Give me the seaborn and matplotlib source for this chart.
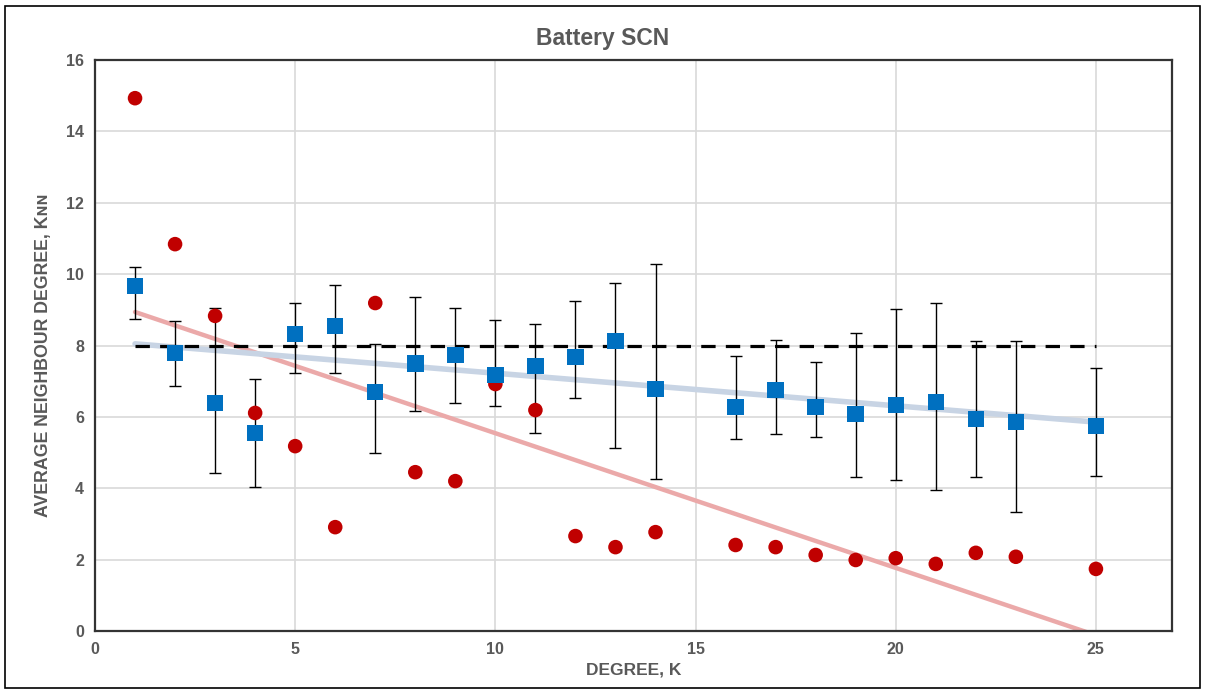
import numpy as np
import pandas as pd
import matplotlib
matplotlib.use("Agg")
import matplotlib.pyplot as plt
import seaborn as sns
from matplotlib.patches import Rectangle

# ---- data ----
degree_blue = [1, 2, 3, 4, 5, 6, 7, 8, 9, 10, 11, 12, 13, 14, 16, 17, 18, 19, 20, 21, 22, 23, 25]
knn_blue = [9.67, 7.79, 6.39, 5.55, 8.32, 8.55, 6.70, 7.50, 7.73, 7.17, 7.42, 7.68, 8.13, 6.78,
            6.28, 6.75, 6.28, 6.08, 6.33, 6.41, 5.94, 5.85, 5.74]
err_upper = [10.20, 8.69, 9.05, 7.06, 9.19, 9.69, 8.04, 9.36, 9.05, 8.71, 8.60, 9.25, 9.75, 10.28,
             7.70, 8.15, 7.54, 8.35, 9.02, 9.19, 8.13, 8.13, 7.38]
err_lower = [8.74, 6.86, 4.43, 4.03, 7.23, 7.23, 4.99, 6.16, 6.39, 6.30, 5.55, 6.53, 5.13, 4.26,
             5.38, 5.52, 5.44, 4.31, 4.23, 3.95, 4.31, 3.33, 4.34]

degree_red = [1, 2, 3, 4, 5, 6, 7, 8, 9, 10, 11, 12, 13, 14, 16, 17, 18, 19, 20, 21, 22, 23, 25]
knn_red = [14.93, 10.84, 8.83, 6.11, 5.18, 2.91, 9.19, 4.45, 4.20, 6.92, 6.19, 2.66, 2.35, 2.77,
           2.41, 2.35, 2.13, 1.99, 2.04, 1.88, 2.19, 2.08, 1.74]

reference_k = [1, 25]
reference_knn = [8.0, 8.0]

title = "Battery SCN"
xlabel = "DEGREE, K"
ylabel = "AVERAGE NEIGHBOUR DEGREE, K\u0274\u0274"

blue_df = pd.DataFrame({"k": degree_blue, "knn": knn_blue})
red_df = pd.DataFrame({"k": degree_red, "knn": knn_red})

sns.set_theme(style="whitegrid")
plt.rcParams['font.family'] = ['Liberation Sans', 'DejaVu Sans']

fig = plt.figure(figsize=(12.06, 6.91), dpi=100)
ax = fig.add_axes([95/1206, 1 - 631/691, (1172-95)/1206, (631-60)/691])

gray = "#595959"

# trend lines
sns.regplot(data=red_df, x="k", y="knn", scatter=False, ci=None, ax=ax,
            line_kws=dict(color="#EBA9A9", lw=3.2, zorder=2))
sns.regplot(data=blue_df, x="k", y="knn", scatter=False, ci=None, ax=ax,
            line_kws=dict(color="#C8D4E4", lw=4.0, zorder=2))

# reference dashed line
sns.lineplot(x=reference_k, y=reference_knn, ax=ax, color="black", lw=2.3,
             linestyle=(0, (4.5, 3.2)), zorder=3)

# error bars
yerr = np.array([np.array(knn_blue) - np.array(err_lower), np.array(err_upper) - np.array(knn_blue)])
ax.errorbar(degree_blue, knn_blue, yerr=yerr, fmt="none", ecolor="black", elinewidth=1.0,
            capsize=4, capthick=1.0, zorder=4)

# points
sns.scatterplot(data=red_df, x="k", y="knn", ax=ax, marker="o", s=110, color="#C00000",
                edgecolor="none", zorder=5)
sns.scatterplot(data=blue_df, x="k", y="knn", ax=ax, marker="s", s=140, color="#0070C0",
                edgecolor="none", zorder=6)

ax.set_xlim(0, 26.9)
ax.set_ylim(0, 16)
ax.set_xticks([0, 5, 10, 15, 20, 25])
ax.set_yticks(range(0, 17, 2))
ax.grid(True, color="#D9D9D9", lw=1.2)
ax.set_axisbelow(True)
for s in ax.spines.values():
    s.set_color("#333333")
    s.set_linewidth(1.6)
ax.tick_params(axis="both", labelsize=11.5, labelcolor=gray, length=0, pad=8)
for lab in ax.get_xticklabels() + ax.get_yticklabels():
    lab.set_fontweight("bold")

ax.set_xlabel(xlabel, fontsize=12.5, fontweight="bold", color=gray, labelpad=4)
ax.set_ylabel(ylabel, fontsize=12.8, fontweight="bold", color=gray)
ax.yaxis.set_label_coords(-43/1077, 0.483)
fig.text(0.5, 1 - 38/691, title, ha="center", va="center", fontsize=16.5,
         fontweight="bold", color=gray)

fig.patches.append(Rectangle((5/1206, 3/691), 1195/1206, 682/691, transform=fig.transFigure,
                             fill=False, edgecolor="black", lw=1.2))

fig.savefig("out.png", dpi=100)
